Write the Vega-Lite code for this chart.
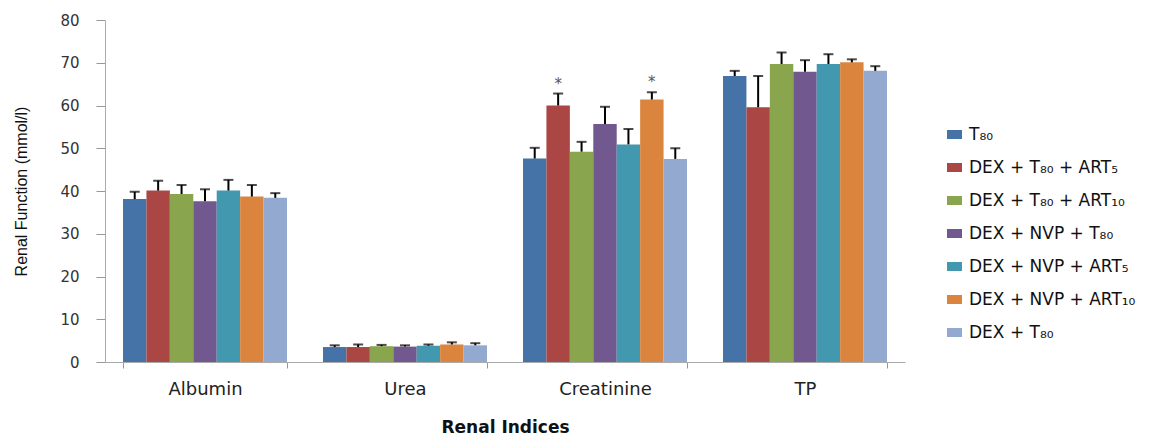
{
  "$schema": "https://vega.github.io/schema/vega-lite/v6.json",
  "autosize": "none",
  "width": 800,
  "height": 342,
  "padding": {"left": 105, "top": 20, "right": 256, "bottom": 74},
  "background": "white",
  "config": {"view": {"stroke": null}, "font": "DejaVu Sans"},
  "data": {"values": [
    {"idx": "Albumin", "grp": "T₈₀", "mean": 38.1, "upper": 39.8, "star": ""},
    {"idx": "Albumin", "grp": "DEX + T₈₀ + ART₅", "mean": 40.1, "upper": 42.4, "star": ""},
    {"idx": "Albumin", "grp": "DEX + T₈₀ + ART₁₀", "mean": 39.3, "upper": 41.4, "star": ""},
    {"idx": "Albumin", "grp": "DEX + NVP + T₈₀", "mean": 37.6, "upper": 40.4, "star": ""},
    {"idx": "Albumin", "grp": "DEX + NVP + ART₅", "mean": 40.1, "upper": 42.6, "star": ""},
    {"idx": "Albumin", "grp": "DEX + NVP + ART₁₀", "mean": 38.7, "upper": 41.4, "star": ""},
    {"idx": "Albumin", "grp": "DEX + T₈₀", "mean": 38.4, "upper": 39.5, "star": ""},
    {"idx": "Urea", "grp": "T₈₀", "mean": 3.5, "upper": 3.9, "star": ""},
    {"idx": "Urea", "grp": "DEX + T₈₀ + ART₅", "mean": 3.5, "upper": 4.1, "star": ""},
    {"idx": "Urea", "grp": "DEX + T₈₀ + ART₁₀", "mean": 3.7, "upper": 4.0, "star": ""},
    {"idx": "Urea", "grp": "DEX + NVP + T₈₀", "mean": 3.6, "upper": 3.9, "star": ""},
    {"idx": "Urea", "grp": "DEX + NVP + ART₅", "mean": 3.8, "upper": 4.1, "star": ""},
    {"idx": "Urea", "grp": "DEX + NVP + ART₁₀", "mean": 4.1, "upper": 4.6, "star": ""},
    {"idx": "Urea", "grp": "DEX + T₈₀", "mean": 3.9, "upper": 4.4, "star": ""},
    {"idx": "Creatinine", "grp": "T₈₀", "mean": 47.6, "upper": 50.1, "star": ""},
    {"idx": "Creatinine", "grp": "DEX + T₈₀ + ART₅", "mean": 60.0, "upper": 62.8, "star": "*"},
    {"idx": "Creatinine", "grp": "DEX + T₈₀ + ART₁₀", "mean": 49.2, "upper": 51.5, "star": ""},
    {"idx": "Creatinine", "grp": "DEX + NVP + T₈₀", "mean": 55.7, "upper": 59.7, "star": ""},
    {"idx": "Creatinine", "grp": "DEX + NVP + ART₅", "mean": 50.9, "upper": 54.5, "star": ""},
    {"idx": "Creatinine", "grp": "DEX + NVP + ART₁₀", "mean": 61.4, "upper": 63.1, "star": "*"},
    {"idx": "Creatinine", "grp": "DEX + T₈₀", "mean": 47.5, "upper": 50.0, "star": ""},
    {"idx": "TP", "grp": "T₈₀", "mean": 66.9, "upper": 68.1, "star": ""},
    {"idx": "TP", "grp": "DEX + T₈₀ + ART₅", "mean": 59.6, "upper": 66.9, "star": ""},
    {"idx": "TP", "grp": "DEX + T₈₀ + ART₁₀", "mean": 69.7, "upper": 72.4, "star": ""},
    {"idx": "TP", "grp": "DEX + NVP + T₈₀", "mean": 67.9, "upper": 70.6, "star": ""},
    {"idx": "TP", "grp": "DEX + NVP + ART₅", "mean": 69.7, "upper": 72.0, "star": ""},
    {"idx": "TP", "grp": "DEX + NVP + ART₁₀", "mean": 70.1, "upper": 70.8, "star": ""},
    {"idx": "TP", "grp": "DEX + T₈₀", "mean": 68.1, "upper": 69.2, "star": ""}
  ]},
  "encoding": {
    "x": {
      "field": "idx", "type": "nominal", "sort": null,
      "scale": {"paddingInner": 0.18, "paddingOuter": 0.09},
      "axis": {
        "title": "Renal Indices", "titleFont": "DejaVu Sans", "titleFontSize": 17, "titleFontWeight": "bold", "titleColor": "#111", "titlePadding": 21,
        "labelAngle": 0, "labelFont": "DejaVu Sans", "labelFontSize": 18, "labelColor": "#222", "labelPadding": 12,
        "tickBand": "extent", "tickSize": 6, "tickColor": "#999", "domainColor": "#aaa", "grid": false
      }
    },
    "xOffset": {
      "field": "grp", "type": "nominal",
      "scale": {"domain": ["T₈₀", "DEX + T₈₀ + ART₅", "DEX + T₈₀ + ART₁₀", "DEX + NVP + T₈₀", "DEX + NVP + ART₅", "DEX + NVP + ART₁₀", "DEX + T₈₀"], "paddingInner": 0, "paddingOuter": 0}
    }
  },
  "layer": [
    {
      "mark": {"type": "bar"},
      "encoding": {
        "y": {
          "field": "mean", "type": "quantitative",
          "scale": {"domain": [0, 80], "nice": false},
          "axis": {
            "title": "Renal Function (mmol/l)", "titleFont": "Liberation Sans", "titleFontSize": 16, "titleFontWeight": "normal", "titleColor": "#111", "titlePadding": 30,
            "values": [0, 10, 20, 30, 40, 50, 60, 70, 80],
            "labelFont": "DejaVu Sans", "labelFontSize": 15, "labelColor": "#333", "labelPadding": 17,
            "tickSize": 9, "tickColor": "#999", "domainColor": "#aaa", "grid": false
          }
        },
        "color": {
          "field": "grp", "type": "nominal",
          "scale": {
            "domain": ["T₈₀", "DEX + T₈₀ + ART₅", "DEX + T₈₀ + ART₁₀", "DEX + NVP + T₈₀", "DEX + NVP + ART₅", "DEX + NVP + ART₁₀", "DEX + T₈₀"],
            "range": ["#4572A7", "#AA4643", "#89A54E", "#71588F", "#4198AF", "#DB843D", "#93A9CF"]
          },
          "legend": {
            "title": null, "orient": "none", "legendX": 841, "legendY": 106,
            "labelFont": "DejaVu Sans", "labelFontSize": 17, "labelColor": "#111", "labelLimit": 300,
            "symbolType": "M-1,-0.6H1V0.6H-1Z", "symbolSize": 225, "symbolStrokeWidth": 0,
            "rowPadding": 15, "labelOffset": 6, "padding": 0
          }
        }
      }
    },
    {
      "mark": {"type": "rule", "color": "#000", "strokeWidth": 2},
      "encoding": {
        "y": {"field": "mean", "type": "quantitative"},
        "y2": {"field": "upper"}
      }
    },
    {
      "mark": {"type": "tick", "color": "#000", "thickness": 2, "size": 10},
      "encoding": {
        "y": {"field": "upper", "type": "quantitative"}
      }
    },
    {
      "mark": {"type": "text", "dy": -2, "fontSize": 15, "color": "#555", "baseline": "bottom"},
      "encoding": {
        "y": {"field": "upper", "type": "quantitative"},
        "text": {"field": "star"}
      }
    }
  ]
}
